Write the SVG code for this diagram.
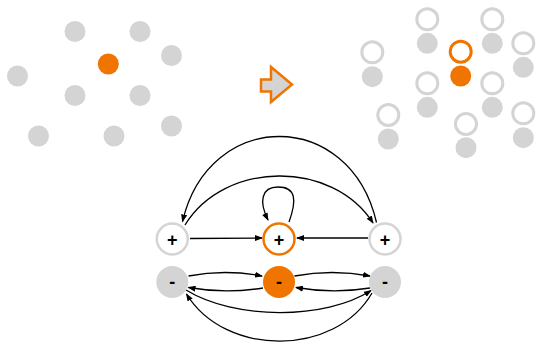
<svg xmlns="http://www.w3.org/2000/svg" width="536" height="343" viewBox="0 0 536 343">
<defs>
<style>
.g{fill:#d4d4d4}
.o{fill:#f07500}
.ring{fill:#fff;stroke:#d4d4d4;stroke-width:3}
.oring{fill:#fff;stroke:#f07500;stroke-width:3}
.e{fill:none;stroke:#000;stroke-width:1.3;marker-end:url(#ah)}
.lbl{font-family:"Liberation Sans",Arial,sans-serif;font-weight:bold;font-size:18px;text-anchor:middle;fill:#000}
</style>
<marker id="ah" markerWidth="8" markerHeight="6" refX="7" refY="3" orient="auto" markerUnits="userSpaceOnUse">
<path d="M0,0 L8,3 L0,6 Z" fill="#000"/>
</marker>
</defs>
<rect width="536" height="343" fill="#fff"/>
<g id="before">
<circle class="g" cx="75" cy="31.5" r="10.5"/>
<circle class="g" cx="140" cy="31.5" r="10.5"/>
<circle class="g" cx="171.5" cy="55.5" r="10.5"/>
<circle class="o" cx="108.3" cy="64" r="10.5"/>
<circle class="g" cx="17.5" cy="76" r="10.5"/>
<circle class="g" cx="75" cy="95.5" r="10.5"/>
<circle class="g" cx="140" cy="95.5" r="10.5"/>
<circle class="g" cx="38.5" cy="136" r="10.5"/>
<circle class="g" cx="114" cy="136" r="10.5"/>
<circle class="g" cx="171.5" cy="126" r="10.5"/>
</g>
<g id="transform-arrow">
<polygon points="261,79.5 271,79.5 271,67 292,84.5 271,102 271,91.5 261,91.5" fill="#d4d4d4" stroke="#f07500" stroke-width="2.5" stroke-linejoin="miter"/>
</g>
<g id="after">
<circle class="ring" cx="427.3" cy="19.3" r="10.5"/><circle class="g" cx="427.3" cy="43.3" r="10.5"/>
<circle class="ring" cx="492.3" cy="19.3" r="10.5"/><circle class="g" cx="492.3" cy="43.3" r="10.5"/>
<circle class="oring" cx="460.7" cy="51.7" r="10.5"/><circle class="o" cx="460.7" cy="76" r="10.5"/>
<circle class="ring" cx="372.3" cy="52.3" r="10.5"/><circle class="g" cx="372.3" cy="76.7" r="10.5"/>
<circle class="ring" cx="523.3" cy="43.3" r="10.5"/><circle class="g" cx="523.3" cy="67.3" r="10.5"/>
<circle class="ring" cx="427.3" cy="83.3" r="10.5"/><circle class="g" cx="427.3" cy="107.3" r="10.5"/>
<circle class="ring" cx="492.3" cy="83.3" r="10.5"/><circle class="g" cx="492.3" cy="107.3" r="10.5"/>
<circle class="ring" cx="388.3" cy="115" r="10.5"/><circle class="g" cx="388.3" cy="139" r="10.5"/>
<circle class="ring" cx="466" cy="124" r="10.5"/><circle class="g" cx="466" cy="147.7" r="10.5"/>
<circle class="ring" cx="523.3" cy="113.3" r="10.5"/><circle class="g" cx="523.3" cy="137.7" r="10.5"/>
</g>
<g id="connectors">
<path class="e" d="M190,238.5 L262,238"/>
<path class="e" d="M368,238 L297,238"/>
<path class="e" d="M289,222 C297,200 296,187 278,187 C261,187 259,202 268,220"/>
<path class="e" d="M376.5,222.5 C350,108 209,108 182.5,221.5"/>
<path class="e" d="M185,225 C225,160 333,160 373,223"/>
<path class="e" d="M188.5,276 Q225,269 262,276"/>
<path class="e" d="M263,288 Q225,294 188.5,287.5"/>
<path class="e" d="M294.5,276 Q332,269 370,276"/>
<path class="e" d="M370,288 Q333,294 296,287.5"/>
<path class="e" d="M186,290 C235,320 325,320 371,290.5"/>
<path class="e" d="M372,293 C335,357 225,357 186.5,294"/>
</g>
<g id="node-plus-left">
<circle cx="172.3" cy="239" r="15.5" fill="#fff" stroke="#d4d4d4" stroke-width="2.5"/>
<text class="lbl" x="172.3" y="245.5">+</text>
</g>
<g id="node-plus-center">
<circle cx="279" cy="239" r="15.5" fill="#fff" stroke="#f07500" stroke-width="2.5"/>
<text class="lbl" x="279" y="245.5">+</text>
</g>
<g id="node-plus-right">
<circle cx="385" cy="239" r="15.5" fill="#fff" stroke="#d4d4d4" stroke-width="2.5"/>
<text class="lbl" x="385" y="245.5">+</text>
</g>
<g id="node-minus-left">
<circle class="g" cx="172.3" cy="282" r="16"/>
<text class="lbl" x="172.3" y="288">-</text>
</g>
<g id="node-minus-center">
<circle class="o" cx="279" cy="282" r="16"/>
<text class="lbl" x="279" y="288">-</text>
</g>
<g id="node-minus-right">
<circle class="g" cx="385" cy="282" r="16"/>
<text class="lbl" x="385" y="288">-</text>
</g>
</svg>
